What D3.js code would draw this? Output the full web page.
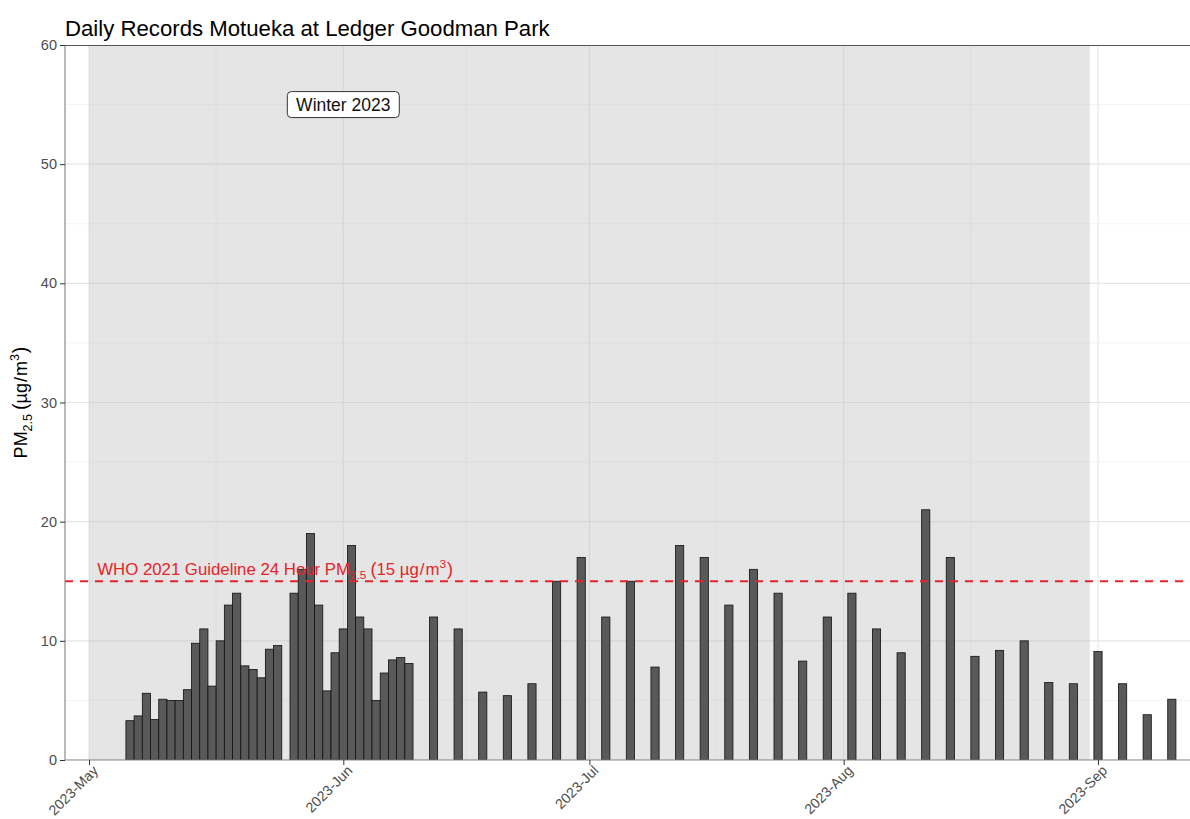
<!DOCTYPE html>
<html>
<head>
<meta charset="utf-8">
<script src="https://cdn.jsdelivr.net/npm/d3@7"></script>
<style>
  body { margin: 0; background: #fff; }
  svg { display: block; font-family: "Liberation Sans", Arial, sans-serif; }
</style>
</head>
<body>
<script>
// daily monitoring: 6 May - 9 Jun (no record on 25 May)
const dailyDates = [
  '2023-05-06', '2023-05-07', '2023-05-08', '2023-05-09', '2023-05-10',
  '2023-05-11', '2023-05-12', '2023-05-13', '2023-05-14', '2023-05-15',
  '2023-05-16', '2023-05-17', '2023-05-18', '2023-05-19', '2023-05-20',
  '2023-05-21', '2023-05-22', '2023-05-23', '2023-05-24',
  '2023-05-26', '2023-05-27', '2023-05-28', '2023-05-29', '2023-05-30',
  '2023-05-31', '2023-06-01', '2023-06-02', '2023-06-03', '2023-06-04',
  '2023-06-05', '2023-06-06', '2023-06-07', '2023-06-08', '2023-06-09'
];
const dailyValues = [
  3.3, 3.7, 5.6, 3.4, 5.1, 5.0, 5.0, 5.9, 9.8, 11, 6.2, 10, 13, 14, 7.9,
  7.6, 6.9, 9.3, 9.6,
  14, 16, 19, 13, 5.8, 9.0, 11, 18, 12, 11, 5.0, 7.3, 8.4, 8.6, 8.1
];

// one-in-three-day monitoring: 12 Jun - 10 Sep
const thirdDayDates = [
  '2023-06-12', '2023-06-15', '2023-06-18', '2023-06-21', '2023-06-24',
  '2023-06-27', '2023-06-30', '2023-07-03', '2023-07-06', '2023-07-09',
  '2023-07-12', '2023-07-15', '2023-07-18', '2023-07-21', '2023-07-24',
  '2023-07-27', '2023-07-30', '2023-08-02', '2023-08-05', '2023-08-08',
  '2023-08-11', '2023-08-14', '2023-08-17', '2023-08-20', '2023-08-23',
  '2023-08-26', '2023-08-29', '2023-09-01', '2023-09-04', '2023-09-07',
  '2023-09-10'
];
const thirdDayValues = [
  12, 11, 5.7, 5.4, 6.4, 15, 17, 12, 15, 7.8,
  18, 17, 13, 16, 14, 8.3, 12, 14, 11, 9,
  21, 17, 8.7, 9.2, 10, 6.5, 6.4, 9.1, 6.4, 3.8,
  5.1
];

const monthTicks = ['2023-05-01', '2023-06-01', '2023-07-01', '2023-08-01', '2023-09-01'];
const minorMonthTicks = ['2023-05-16T12:00', '2023-06-16', '2023-07-16T12:00', '2023-08-16T12:00'];
const yTicks = [0, 10, 20, 30, 40, 50, 60];
const yMinorTicks = [5, 15, 25, 35, 45, 55];

const winterPeriod = ['2023-05-01', '2023-08-31'];
const winterLabel = { date: '2023-06-01', value: 55, text: 'Winter 2023' };
const whoGuideline = 15;
const whoLabelDate = '2023-05-02';

const parseDate = (s) => new Date(s + (s.length > 10 ? ':00Z' : 'T00:00:00Z'));

const width = 1190,
      height = 819,
      panelLeft = 65,
      panelRight = 1190,
      panelTop = 45,
      panelBottom = 760;

const dataset = dailyDates.map((d, i) => ({ date: parseDate(d), value: dailyValues[i] }))
  .concat(thirdDayDates.map((d, i) => ({ date: parseDate(d), value: thirdDayValues[i] })));

const xScale = d3.scaleUtc()
                 .domain([parseDate('2023-05-01'), parseDate('2023-09-01')])
                 .range([89, 1098]),
      yScale = d3.scaleLinear()
                 .domain([0, 60])
                 .range([panelBottom, panelTop]);

const svg = d3.select('body')
              .append('svg')
              .attr('width', width)
              .attr('height', height);

svg.append('defs').append('clipPath')
   .attr('id', 'panel-clip')
   .append('rect')
   .attr('x', panelLeft)
   .attr('y', panelTop)
   .attr('width', panelRight - panelLeft)
   .attr('height', panelBottom - panelTop);

const panel = svg.append('g').attr('clip-path', 'url(#panel-clip)');

// grid
panel.selectAll('.hminor')
     .data(yMinorTicks)
     .enter()
     .append('line')
     .attr('x1', panelLeft).attr('x2', panelRight)
     .attr('y1', (d) => yScale(d)).attr('y2', (d) => yScale(d))
     .attr('stroke', '#ebebeb').attr('stroke-width', 0.6);

panel.selectAll('.vminor')
     .data(minorMonthTicks)
     .enter()
     .append('line')
     .attr('x1', (d) => xScale(parseDate(d))).attr('x2', (d) => xScale(parseDate(d)))
     .attr('y1', panelTop).attr('y2', panelBottom)
     .attr('stroke', '#ebebeb').attr('stroke-width', 0.6);

panel.selectAll('.hmajor')
     .data(yTicks)
     .enter()
     .append('line')
     .attr('x1', panelLeft).attr('x2', panelRight)
     .attr('y1', (d) => yScale(d)).attr('y2', (d) => yScale(d))
     .attr('stroke', '#e6e6e6').attr('stroke-width', 1.1);

panel.selectAll('.vmajor')
     .data(monthTicks)
     .enter()
     .append('line')
     .attr('x1', (d) => xScale(parseDate(d))).attr('x2', (d) => xScale(parseDate(d)))
     .attr('y1', panelTop).attr('y2', panelBottom)
     .attr('stroke', '#e6e6e6').attr('stroke-width', 1.1);

// winter shading
panel.append('rect')
     .attr('x', xScale(parseDate(winterPeriod[0])))
     .attr('y', panelTop)
     .attr('width', xScale(parseDate(winterPeriod[1])) - xScale(parseDate(winterPeriod[0])))
     .attr('height', panelBottom - panelTop)
     .attr('fill', '#bebebe')
     .attr('fill-opacity', 0.4);

// bars
panel.selectAll('.bar')
     .data(dataset)
     .enter()
     .append('rect')
     .attr('class', 'bar')
     .attr('x', (d) => xScale(d3.utcHour.offset(d.date, -12)))
     .attr('width', (d) => xScale(d3.utcHour.offset(d.date, 12)) - xScale(d3.utcHour.offset(d.date, -12)))
     .attr('y', (d) => yScale(d.value))
     .attr('height', (d) => yScale(0) - yScale(d.value))
     .attr('fill', '#595959')
     .attr('stroke', '#111')
     .attr('stroke-width', 0.8);

// WHO guideline
panel.append('line')
     .attr('x1', panelLeft).attr('x2', panelRight)
     .attr('y1', yScale(whoGuideline)).attr('y2', yScale(whoGuideline))
     .attr('stroke', '#e3262b')
     .attr('stroke-width', 1.8)
     .attr('stroke-dasharray', '8,7');

const whoText = panel.append('text')
                     .attr('x', xScale(parseDate(whoLabelDate)))
                     .attr('y', yScale(whoGuideline) - 6)
                     .attr('fill', '#e3262b')
                     .attr('font-size', 16.8);
whoText.append('tspan').text('WHO 2021 Guideline 24 Hour PM');
whoText.append('tspan').attr('font-size', 11.8).attr('dy', 4).text('2.5');
whoText.append('tspan').attr('dy', -4).attr('dx', 4).attr('font-size', 18).text('(');
whoText.append('tspan').text('15 µg');
whoText.append('tspan').attr('dx', 1).text('/');
whoText.append('tspan').attr('dx', 1).text('m');
whoText.append('tspan').attr('font-size', 11.8).attr('dy', -7).text('3');
whoText.append('tspan').attr('dy', 7).attr('dx', 1).attr('font-size', 18).text(')');

// winter label
const wx = xScale(parseDate(winterLabel.date)),
      wy = yScale(winterLabel.value);
panel.append('rect')
     .attr('x', wx - 56).attr('y', wy - 13)
     .attr('width', 112).attr('height', 26)
     .attr('rx', 4)
     .attr('fill', '#fff')
     .attr('stroke', '#333')
     .attr('stroke-width', 1);
panel.append('text')
     .attr('x', wx).attr('y', wy)
     .attr('dy', '0.36em')
     .attr('text-anchor', 'middle')
     .attr('font-size', 17.5)
     .attr('fill', '#111')
     .text(winterLabel.text);

// axis lines
svg.append('line')
   .attr('x1', panelLeft).attr('x2', panelRight)
   .attr('y1', panelTop + 0.5).attr('y2', panelTop + 0.5)
   .attr('stroke', '#555').attr('stroke-width', 1.2);
svg.append('line')
   .attr('x1', panelLeft).attr('x2', panelLeft)
   .attr('y1', panelTop).attr('y2', panelBottom)
   .attr('stroke', '#8a8a8a').attr('stroke-width', 1.2);
svg.append('line')
   .attr('x1', panelLeft).attr('x2', panelRight)
   .attr('y1', panelBottom).attr('y2', panelBottom)
   .attr('stroke', '#8a8a8a').attr('stroke-width', 1.2);

// axes
const yAxis = d3.axisLeft(yScale).tickValues(yTicks).tickSize(5).tickPadding(3),
      xAxis = d3.axisBottom(xScale)
                .tickValues(monthTicks.map(parseDate))
                .tickFormat(d3.utcFormat('%Y-%b'))
                .tickSize(5);

const yG = svg.append('g')
              .attr('transform', 'translate(' + panelLeft + ',0)')
              .call(yAxis);
yG.select('.domain').remove();
yG.selectAll('line').attr('stroke', '#333');
yG.selectAll('text')
  .attr('font-size', 14.5)
  .attr('fill', '#4d4d4d')
  .attr('font-family', '"Liberation Sans", Arial, sans-serif');

const xG = svg.append('g')
              .attr('transform', 'translate(0,' + panelBottom + ')')
              .call(xAxis);
xG.select('.domain').remove();
xG.selectAll('line').attr('stroke', '#333');
xG.selectAll('text')
  .attr('font-size', 14.2)
  .attr('fill', '#4d4d4d')
  .attr('font-family', '"Liberation Sans", Arial, sans-serif')
  .attr('text-anchor', 'end')
  .attr('y', 0)
  .attr('dy', '0.75em')
  .attr('transform', 'translate(2,4) rotate(-45)');

// titles
svg.append('text')
   .attr('x', panelLeft)
   .attr('y', 36)
   .attr('font-size', 22.2)
   .attr('fill', '#000')
   .text('Daily Records Motueka at Ledger Goodman Park');

const yTitle = svg.append('text')
                  .attr('transform', 'translate(27,' + ((panelTop + panelBottom) / 2) + ') rotate(-90)')
                  .attr('text-anchor', 'middle')
                  .attr('font-size', 18)
                  .attr('fill', '#000');
yTitle.append('tspan').text('PM');
yTitle.append('tspan').attr('font-size', 12.5).attr('dy', 5).text('2.5');
yTitle.append('tspan').attr('dy', -5).attr('dx', 4).attr('font-size', 19.5).text('(');
yTitle.append('tspan').text('µg');
yTitle.append('tspan').attr('dx', 1).text('/');
yTitle.append('tspan').attr('dx', 1).text('m');
yTitle.append('tspan').attr('font-size', 12.5).attr('dy', -8).text('3');
yTitle.append('tspan').attr('dy', 8).attr('dx', 1).attr('font-size', 19.5).text(')');
</script>
</body>
</html>
